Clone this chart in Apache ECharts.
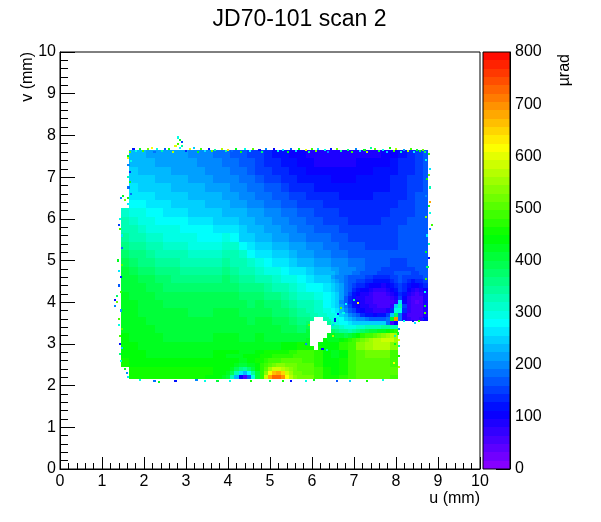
<!DOCTYPE html>
<html><head><meta charset="utf-8">
<style>html,body{margin:0;padding:0;background:#fff}#c{width:601px;height:522px}</style>
<script src="https://cdn.jsdelivr.net/npm/echarts@6/dist/echarts.min.js"></script>
</head><body><div id="c"></div>
<script>
const titleText = 'JD70-101 scan 2';
const uEdges = [1.45,1.65,1.85,2.05,2.25,2.45,2.65,2.85,3.05,3.25,3.45,3.65,3.85,4.05,4.25,4.45,4.65,4.85,5.05,5.25,5.45,5.65,5.85,6.05,6.25,6.45,6.65,6.85,7.05,7.25,7.45,7.65,7.85,8.05,8.25,8.45,8.65,8.75];
const vEdges = [7.65,7.45,7.25,7.05,6.85,6.65,6.45,6.25,6.05,5.85,5.65,5.45,5.25,5.05,4.85,4.65,4.45,4.25,4.05,3.85,3.65,3.45,3.25,3.05,2.85,2.65,2.45,2.25,2.15];
const _ = null;
const cellValues = [
[_,228,225,222,218,215,212,208,204,200,195,188,180,172,165,155,145,135,125,115,105,98,90,85,82,80,80,82,85,88,92,100,110,120,130,145,170],
[_,232,230,226,222,218,215,212,208,204,198,192,186,178,170,160,150,140,130,120,112,105,100,95,92,90,92,94,96,100,104,110,118,128,138,150,165],
[_,240,236,232,228,225,222,218,214,210,205,198,192,185,176,168,158,148,138,130,122,115,110,105,102,100,102,104,106,110,114,118,125,132,142,152,165],
[_,248,244,240,236,232,228,225,220,216,212,206,200,193,185,176,168,158,150,140,132,125,120,115,112,110,110,110,112,115,118,122,128,135,145,155,165],
[_,258,254,250,245,240,236,232,228,224,220,214,208,202,194,186,178,170,160,150,142,135,130,125,122,120,118,118,118,120,122,125,130,138,148,158,165],
[_,270,265,260,255,250,245,240,236,232,228,224,218,212,204,196,188,180,170,162,154,146,140,135,130,128,125,125,125,125,128,132,135,142,150,160,170],
[_,280,276,270,265,260,255,250,245,240,236,232,228,222,214,206,198,190,182,172,165,158,150,145,140,135,132,130,130,130,132,135,140,146,155,165,170],
[310,295,288,282,276,270,266,260,255,250,246,242,238,232,225,216,208,200,192,184,176,168,160,155,150,145,140,136,135,135,138,140,145,150,158,168,175],
[320,308,298,290,286,280,276,272,268,262,258,254,250,245,232,224,216,208,200,194,186,178,170,165,158,152,147,142,140,140,142,146,150,155,162,170,175],
[332,320,310,302,296,292,288,284,280,276,272,268,270,262,240,234,226,218,212,205,196,188,180,174,167,160,155,150,146,145,148,152,155,160,165,170,175],
[345,332,320,312,305,300,296,292,288,285,282,282,295,285,255,245,238,230,222,215,206,198,190,184,176,170,164,158,152,150,152,155,158,162,166,170,175],
[362,350,338,328,320,314,310,306,302,298,296,300,318,305,280,262,250,242,234,226,218,210,200,194,186,178,172,166,160,156,155,156,158,162,166,170,172],
[378,366,352,342,335,328,324,320,316,314,312,318,330,320,305,285,268,256,248,240,230,222,212,204,196,188,180,174,168,164,162,160,160,162,164,168,170],
[390,378,366,356,348,342,338,334,332,330,328,335,342,335,320,305,288,278,268,258,248,238,228,218,208,200,192,185,180,172,165,160,158,158,160,164,168],
[400,390,380,370,362,356,352,348,346,344,344,348,355,348,335,322,312,298,288,278,268,258,245,235,225,215,205,195,185,172,160,155,155,152,155,160,165],
[408,400,392,384,376,370,366,362,360,360,360,364,368,360,350,338,335,322,310,300,288,278,265,255,242,230,215,195,172,150,130,135,150,145,145,150,155],
[414,406,400,392,386,382,378,376,374,374,374,378,380,374,365,355,352,342,332,322,310,298,285,275,260,240,215,170,125,100,85,95,135,150,130,125,130],
[418,412,406,400,396,392,388,386,384,384,384,388,390,386,378,370,372,362,352,342,330,318,305,292,275,250,210,140,85,60,50,55,70,130,110,85,80],
[422,416,410,405,402,398,396,394,392,392,392,396,398,394,388,380,385,378,368,358,345,332,320,305,285,255,205,130,85,70,60,55,250,200,85,60,65],
[424,420,414,410,406,403,401,400,398,398,398,402,404,400,396,390,396,388,380,370,358,345,330,310,290,270,230,190,160,120,100,90,340,130,60,50,70],
[425,422,418,413,410,407,405,404,403,402,402,406,408,406,402,398,405,400,392,384,372,362,_,_,_,300,280,265,255,245,235,150,680,_,_,_,_],
[428,425,420,416,413,411,409,408,407,407,407,410,412,410,408,404,412,408,402,395,385,378,_,_,_,350,335,325,340,360,390,430,500,_,_,_,_],
[432,428,424,420,417,415,414,413,412,412,412,416,418,416,414,412,418,414,408,402,400,405,_,_,_,420,470,485,520,550,575,590,545,_,_,_,_],
[436,432,428,425,422,420,419,418,418,418,418,422,424,422,420,418,424,425,430,435,440,460,_,_,_,440,470,495,530,555,570,570,530,_,_,_,_],
[442,438,434,431,429,428,428,428,428,428,428,432,434,432,430,430,440,448,456,462,470,485,490,470,440,430,445,480,505,515,520,515,490,_,_,_,_],
[450,446,444,442,442,442,442,442,442,444,444,445,446,443,420,435,470,505,525,520,510,510,505,470,440,435,450,480,500,510,510,505,495,_,_,_,_],
[_,452,452,452,452,452,452,452,452,450,448,445,440,380,260,350,480,600,670,600,540,525,510,485,450,440,460,490,505,510,510,505,500,_,_,_,_],
[_,452,450,450,450,450,450,450,448,448,445,440,420,330,150,280,430,640,720,640,560,530,510,490,460,450,470,490,500,505,505,500,495,_,_,_,_]
];
// finer readings: hole in the scan
const holeU = [5.85,5.95,6.05,6.15,6.25,6.35,6.45,6.55];
const holeV = [3.75,3.65,3.55,3.45,3.35,3.25,3.15,3.05,2.95,2.85];
const holeValues = [
[345,335,325,315,305,300,292],
[360,345,_,_,330,320,300],
[375,_,_,_,_,340,312],
[385,_,_,_,_,_,335],
[400,_,_,_,_,_,380],
[410,_,_,_,_,420,420],
[420,_,_,_,440,430,430],
[430,_,_,440,445,440,440],
[450,455,_,450,445,440,440]
];
// finer readings: strong-gradient area next to the notch
const notchU = [6.45,6.55,6.65,6.75,6.85,6.95,7.05,7.15,7.25,7.35,7.45,7.55,7.65,7.75,7.85,7.95,8.05,8.15,8.25,8.35,8.45,8.55,8.65,8.75];
const notchV = [4.75,4.65,4.55,4.45,4.35,4.25,4.15,4.05,3.95,3.85,3.75,3.65,3.55,3.45,3.35,3.25,3.15,3.05];
const notchValues = [
[225,215,205,200,195,190,182,175,170,165,160,155,150,152,158,160,165,165,160,158,158,160,165],
[215,205,195,185,175,170,165,160,155,145,140,135,132,135,145,155,160,155,150,148,150,155,160],
[235,220,205,190,175,165,155,148,140,132,125,120,118,120,132,150,160,150,135,125,130,140,150],
[245,228,210,190,170,152,140,130,120,108,100,96,95,98,112,140,155,140,120,105,105,115,130],
[252,235,215,190,162,138,122,108,96,85,78,74,74,82,98,125,145,130,100,80,75,85,110],
[258,240,215,185,152,125,105,92,80,70,62,58,58,65,82,105,140,120,85,65,58,65,95],
[262,240,210,175,140,112,95,84,72,64,56,52,50,54,66,90,150,110,75,55,48,55,85],
[265,242,205,170,135,112,98,86,76,66,58,52,48,50,60,70,260,100,65,50,45,50,80],
[270,250,215,182,148,122,105,92,82,72,66,60,58,62,76,250,330,150,70,52,48,52,80],
[280,262,235,205,172,145,125,108,95,84,78,74,74,92,130,300,290,130,65,52,50,55,85],
[290,275,255,230,205,180,160,140,125,115,110,112,120,150,250,370,190,95,62,50,50,60,90],
[300,288,272,252,235,220,205,192,180,172,165,165,170,190,420,690,180,90,70,60,60,70,100],
[312,300,285,272,262,255,250,248,248,250,252,250,240,180,50,110,_,_,_,_,_,_,_],
[335,320,305,295,290,295,305,315,320,320,325,335,340,340,330,320,_,_,_,_,_,_,_],
[380,365,350,340,335,345,360,375,390,400,410,420,430,440,460,470,_,_,_,_,_,_,_],
[420,410,400,395,400,420,445,470,485,495,510,520,530,545,560,550,_,_,_,_,_,_,_],
[430,430,440,450,470,490,510,525,540,555,565,575,585,590,585,550,_,_,_,_,_,_,_]
];
// finer readings: dip and hot spot on the lower edge
const edgeU = [3.95,4.05,4.15,4.25,4.35,4.45,4.55,4.65,4.75,4.85,4.95,5.05,5.15,5.25,5.35,5.45,5.55,5.65,5.75,5.85,5.95,6.05];
const edgeV = [2.75,2.65,2.55,2.45,2.35,2.25,2.15];
const edgeValues = [
[430,430,430,430,432,435,440,445,450,455,460,465,470,472,475,478,480,482,485,488,490],
[436,435,432,430,430,432,438,448,458,470,480,488,495,498,500,500,498,497,495,495,495],
[440,436,425,415,412,418,428,445,465,490,510,525,530,530,525,520,515,510,505,505,505],
[440,420,395,360,345,370,400,435,470,510,555,590,590,570,550,530,515,510,510,505,505],
[430,385,330,270,230,285,345,410,465,530,620,670,680,640,590,550,525,515,510,510,510],
[415,330,230,110,50,160,290,400,470,580,680,720,730,690,610,560,530,520,515,512,512]
];
const edgeSpeckles = [
[2.8,7.95,300],[2.85,7.9,420],[2.9,7.85,150],[2.8,7.8,480],[2.9,7.75,350],[2.75,7.75,600],[2.85,7.7,280],
[1.75,7.68,120],[1.9,7.68,420],[2.1,7.68,520],[2.2,7.7,620],[2.3,7.68,300],[2.5,7.67,160],[2.6,7.68,450],[3.1,7.68,600],[3.2,7.7,240],[3.35,7.67,480],[3.55,7.68,120],[3.7,7.66,350],[3.85,7.68,560],[4.0,7.66,640],[4.2,7.68,420],[4.4,7.67,300],[4.6,7.68,500],[4.75,7.66,120],[4.9,7.68,200],[5.1,7.67,100],[5.3,7.66,260],[5.5,7.68,160],[5.7,7.67,420],[5.85,7.66,600],[6.0,7.68,480],[6.15,7.67,250],[6.3,7.66,300],[6.45,7.68,120],[6.6,7.67,520],[6.85,7.66,380],[7.05,7.68,200],[7.25,7.66,420],[7.4,7.7,350],[7.5,7.68,500],[7.7,7.66,300],[7.85,7.7,450],[8.0,7.68,560],[8.2,7.66,220],[8.35,7.68,480],[8.5,7.66,420],[8.65,7.66,520],
[1.82,7.62,300],[1.98,7.62,480],[2.25,7.61,180],[2.42,7.62,350],[2.68,7.61,560],[3.0,7.62,140],[3.28,7.61,420],[3.45,7.62,260],[3.62,7.63,520],[3.95,7.62,330],[4.1,7.63,180],[4.3,7.61,460],[4.52,7.62,280],[4.82,7.61,380],[5.0,7.62,130],[5.2,7.62,300],[5.42,7.61,430],[5.62,7.62,240],[5.92,7.61,350],[6.1,7.62,520],[6.38,7.61,200],[6.7,7.62,340],[6.95,7.61,480],[7.15,7.62,260],[7.32,7.61,560],[7.6,7.62,400],[7.78,7.61,240],[7.95,7.63,480],[8.12,7.61,330],[8.28,7.63,560],[8.42,7.61,260],[8.58,7.62,450],[8.7,7.6,380],
[1.62,7.5,420],[1.62,7.45,600],[1.63,7.3,200],[1.62,7.0,320],[1.63,6.75,180],[1.62,6.5,450],[1.61,6.35,260],[1.67,7.6,500],[1.68,7.38,300],[1.67,7.12,130],[1.67,6.88,420],[1.68,6.6,190],
[1.5,6.55,420],[1.45,6.5,200],[1.55,6.45,520],[1.4,5.85,150],[1.43,5.75,480],[1.48,5.6,260],[1.35,4.15,380],[1.3,4.05,120],[1.35,4.0,520],[1.32,3.9,200],[1.4,3.6,480],[1.4,3.45,300],[1.38,5.0,420],[1.4,4.75,260],[1.4,4.4,170],[1.42,3.2,480],[1.43,3.0,120],[1.42,2.75,360],[1.45,2.6,300],[1.55,2.4,420],[1.6,2.3,200],[1.62,2.2,260],[1.43,6.0,300],[1.47,5.3,180],[1.47,4.9,500],[1.46,4.6,130],[1.45,4.25,480],[1.46,3.8,220],[1.47,3.35,510],[1.47,2.9,250],
[8.78,7.55,480],[8.8,7.2,260],[8.78,7.05,520],[8.82,6.75,320],[8.8,6.4,680],[8.78,6.3,420],[8.82,6.15,300],[8.85,5.85,480],[8.82,5.75,200],[8.78,5.4,320],[8.78,5.05,120],[8.75,4.85,380],[8.72,4.55,480],[8.7,4.25,300],[8.72,4.0,120],[8.7,3.75,500],[8.65,3.6,140],[8.4,3.55,120],[8.45,3.5,260],[8.72,7.4,300],[8.73,6.95,450],[8.72,6.55,200],[8.72,6.05,530],[8.73,5.6,260],[8.72,5.2,420],[8.68,4.4,130],[8.68,3.9,420],[8.2,3.56,300],[8.55,3.56,460],
[1.9,2.13,300],[2.25,2.1,180],[2.35,2.08,420],[2.75,2.12,120],[3.25,2.13,200],[3.45,2.1,300],[3.75,2.11,400],[4.05,2.12,300],[4.55,2.12,450],[5.0,2.12,380],[5.3,2.1,460],[5.5,2.12,120],[5.85,2.1,300],[6.05,2.13,420],[6.6,2.12,160],[6.9,2.12,250],[7.3,2.12,450],[7.7,2.14,300],
[8.07,3.35,200],[8.08,3.1,600],[8.07,2.95,340],[8.08,2.7,460],[8.07,2.45,560],[8.05,3.25,420],[7.98,3.2,330],[7.98,3.0,420],[7.95,2.55,620],
[5.85,3.0,200],[6.0,3.62,350],[6.25,2.88,120],[6.35,3.05,440],[5.92,3.45,500],[6.5,3.45,250],[6.5,3.2,560],[6.35,2.85,330],[6.55,3.55,120],[6.42,3.62,300],[6.62,3.72,120],[6.7,3.85,500],[6.75,3.75,300],[6.8,3.95,280],[7.0,4.05,350],[7.1,3.98,620],[6.55,3.6,100]
];
const rainbowStops = [0,110,279,445,618,800];
const rainbowColors = [[144,0,255],[0,0,255],[0,255,255],[0,255,0],[255,255,0],[255,0,0]];
const colorBins = 50;
const zMax = 800;
const fontName = 'Liberation Sans';

function colorOf(val){
  const bin = Math.min(colorBins-1, Math.max(0, Math.floor(val/zMax*colorBins)));
  const c = (bin+0.5)*zMax/colorBins;
  let i = 0;
  while(i < rainbowStops.length-2 && c > rainbowStops[i+1]) i++;
  const t = (c-rainbowStops[i])/(rainbowStops[i+1]-rainbowStops[i]);
  const a = rainbowColors[i], b = rainbowColors[i+1];
  return 'rgb('+[0,1,2].map(k=>Math.round(a[k]+(b[k]-a[k])*t)).join(',')+')';
}
const cells = [];
function addTable(us,vs,table){
  table.forEach((row,r)=>row.forEach((val,c)=>{
    if(val!==null) cells.push([us[c],vs[r+1],us[c+1],vs[r],val]);
  }));
}
addTable(uEdges,vEdges,cellValues);
addTable(holeU,holeV,holeValues);
addTable(notchU,notchV,notchValues);
addTable(edgeU,edgeV,edgeValues);
const speckSize = 0.05;
edgeSpeckles.forEach(s=>cells.push([s[0]-speckSize/2,s[1]-speckSize/2,s[0]+speckSize/2,s[1]+speckSize/2,s[2]]));
const barCells = [];
for(let i=0;i<colorBins;i++) barCells.push([0,i*zMax/colorBins,1,(i+1)*zMax/colorBins,(i+0.5)*zMax/colorBins]);

function renderRect(params,api){
  const p0 = api.coord([api.value(0),api.value(1)]);
  const p1 = api.coord([api.value(2),api.value(3)]);
  const x = Math.round(p0[0]), y = Math.round(p1[1]);
  return {type:'rect',shape:{x:x,y:y,width:Math.max(1,Math.round(p1[0])-x),height:Math.max(1,Math.round(p0[1])-y)},
    style:{fill:colorOf(api.value(4))}};
}
const labelStyle = {color:'#000',fontFamily:fontName,fontSize:16};
const lineStyle = {color:'#000',width:1};
const chart = echarts.init(document.getElementById('c'),null,{renderer:'canvas'});
chart.setOption({
  animation:false,
  backgroundColor:'#fff',
  title:{text:titleText,left:294.5,top:3,textAlign:'center',textStyle:{fontFamily:fontName,fontSize:23,fontWeight:'normal',color:'#000'}},
  grid:[
    {left:60,top:52,width:420,height:417,show:true,borderColor:'#000',borderWidth:1,backgroundColor:'#fff',outerBoundsMode:'none'},
    {left:483,top:52,width:27,height:417,show:false,outerBoundsMode:'none'}
  ],
  xAxis:[
    {gridIndex:0,type:'value',min:0,max:10,interval:1,name:'u (mm)',nameLocation:'end',nameGap:0,nameMoveOverlap:false,
     nameTextStyle:{...labelStyle,align:'right',verticalAlign:'top',padding:[22,0,0,0]},
     axisLine:{onZero:false,lineStyle},axisTick:{inside:true,length:12,lineStyle},
     minorTick:{show:true,splitNumber:5,length:6,lineStyle},splitLine:{show:false},minorSplitLine:{show:false},
     axisLabel:{...labelStyle,margin:5,showMinLabel:true,showMaxLabel:true,hideOverlap:false}},
    {gridIndex:1,type:'value',min:0,max:1,show:false}
  ],
  yAxis:[
    {gridIndex:0,type:'value',min:0,max:10,interval:1,name:'v (mm)',nameLocation:'end',nameRotate:90,nameGap:0,nameMoveOverlap:false,
     nameTextStyle:{...labelStyle,align:'right',verticalAlign:'bottom',padding:[0,0,24,0]},
     axisLine:{onZero:false,lineStyle},axisTick:{inside:true,length:15,lineStyle},
     minorTick:{show:true,splitNumber:5,length:8,lineStyle},splitLine:{show:false},minorSplitLine:{show:false},
     axisLabel:{...labelStyle,margin:4,showMinLabel:true,showMaxLabel:true,hideOverlap:false}},
    {gridIndex:1,type:'value',min:0,max:zMax,interval:100,position:'right',name:'µrad',nameLocation:'end',nameRotate:90,nameGap:-2,nameMoveOverlap:false,
     nameTextStyle:{...labelStyle,align:'right',verticalAlign:'top',padding:[47,0,0,0]},
     axisLine:{onZero:false,lineStyle},axisTick:{inside:true,length:14,lineStyle},splitLine:{show:false},
     axisLabel:{...labelStyle,margin:5,showMinLabel:true,showMaxLabel:true,hideOverlap:false}}
  ],
  series:[
    {type:'custom',xAxisIndex:0,yAxisIndex:0,data:cells,renderItem:renderRect,encode:{x:[0,2],y:[1,3]},clip:true,silent:true,progressive:0,z:1},
    {type:'custom',xAxisIndex:1,yAxisIndex:1,data:barCells,renderItem:renderRect,encode:{x:[0,2],y:[1,3]},clip:true,silent:true,progressive:0,z:1}
  ],
  graphic:[{type:'rect',z:100,shape:{x:483,y:52,width:27,height:417},style:{fill:'none',stroke:'#000',lineWidth:1}}]
});
</script></body></html>
